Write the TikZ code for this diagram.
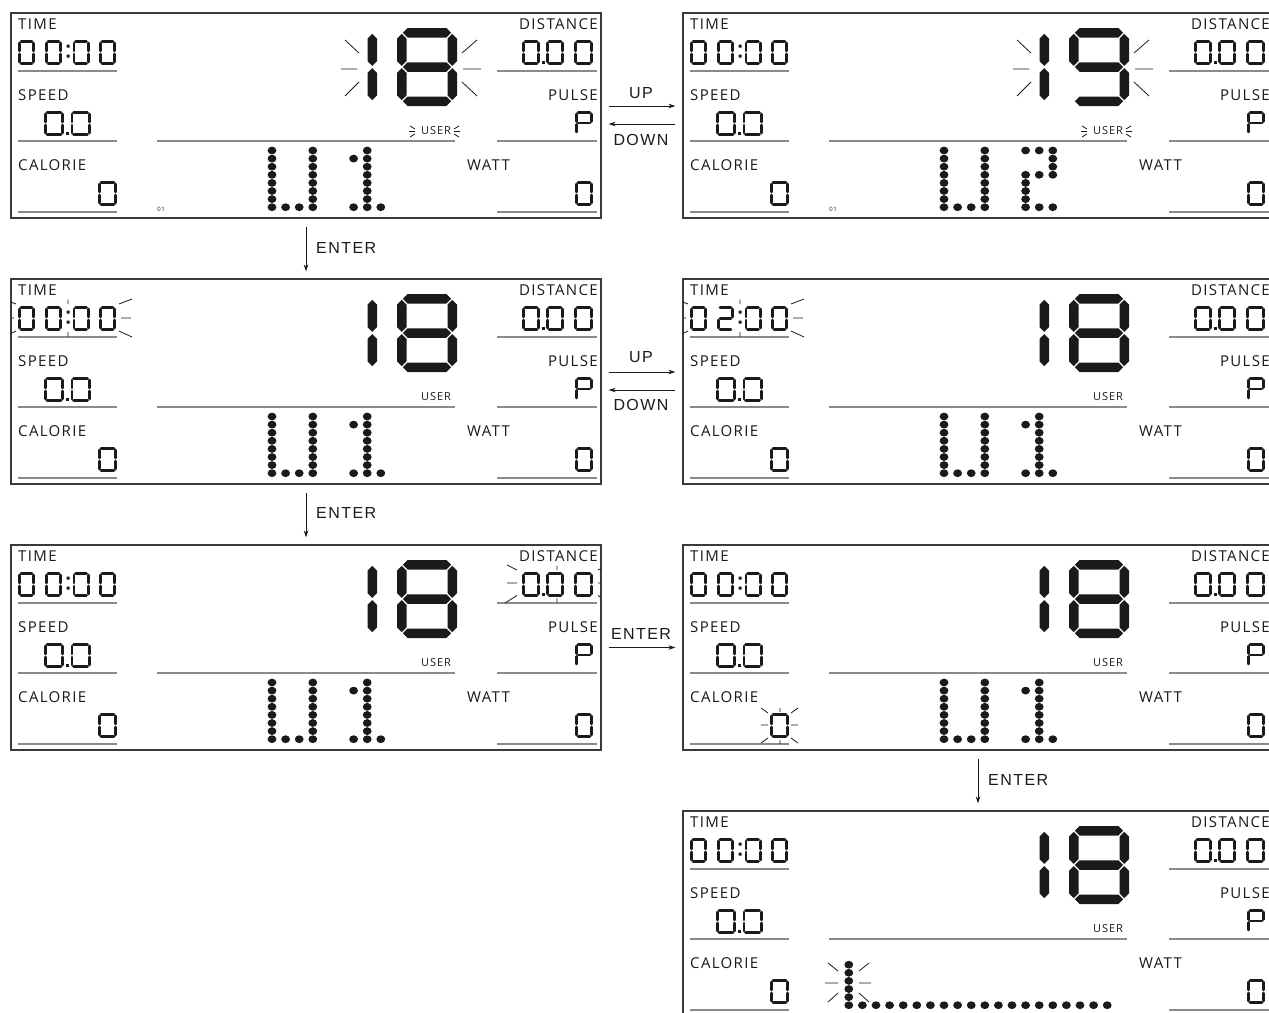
\documentclass[tikz,border=0pt]{standalone}
\usepackage{fontspec}
\setmainfont{Open Sans}
\newfontfamily\lcdf[LetterSpace=9]{Open Sans}
\newfontfamily\arrf[LetterSpace=9]{Liberation Sans}
\usetikzlibrary{arrows.meta}
\definecolor{ink}{HTML}{1A1A1A}
\definecolor{frame}{HTML}{3A3A3A}
\definecolor{rulec}{HTML}{8A8A8A}
\tikzset{
 panel/.style={draw=frame, line width=1.2, minimum width=590, minimum height=205, inner sep=0, fill=white},
 seg/.style={draw=ink, line width=2.8, line cap=round},
 flash/.style={draw=ink, line width=0.8},
 uline/.style={draw=rulec, line width=1.5},
 lbl/.style={font=\lcdf\fontsize{15}{15}\selectfont, inner sep=0, text=ink},
 usr/.style={font=\lcdf\fontsize{11}{11}\selectfont, inner sep=0, text=ink},
 tiny/.style={font=\lcdf\fontsize{6}{6}\selectfont, inner sep=0, text=ink},
 arrlbl/.style={font=\arrf\fontsize{16}{16}\selectfont, inner sep=0, text=ink},
 arr/.style={draw=ink, line width=0.9, -{Stealth[length=7, width=4.5]}},
}
\makeatletter
% small seven-segment digit
\def\si{1.4}\def\sgp{1.6}
\newcommand\sdig[5]{\begin{scope}[shift={(#1,#2)}]\def\dW{#3}\def\dH{#4}\edef\sglist{#5}%
 \foreach \s in \sglist {\csname sd@\s\endcsname}\end{scope}}
\def\sd@a{\draw[seg] (\si+\sgp,\si) -- (\dW-\si-\sgp,\si);}
\def\sd@b{\draw[seg] (\dW-\si,\si+\sgp) -- (\dW-\si,\dH/2-\sgp);}
\def\sd@c{\draw[seg] (\dW-\si,\dH/2+\sgp) -- (\dW-\si,\dH-\si-\sgp);}
\def\sd@d{\draw[seg] (\si+\sgp,\dH-\si) -- (\dW-\si-\sgp,\dH-\si);}
\def\sd@e{\draw[seg] (\si,\dH/2+\sgp) -- (\si,\dH-\si-\sgp);}
\def\sd@f{\draw[seg] (\si,\si+\sgp) -- (\si,\dH/2-\sgp);}
\def\sd@g{\draw[seg] (\si+\sgp,\dH/2) -- (\dW-\si-\sgp,\dH/2);}
\def\zero{a,b,c,d,e,f}
% big seven-segment digit
\def\bt{9.5}\def\bg{1.2}
\newcommand\bdig[5]{\begin{scope}[shift={(#1,#2)}]\def\dW{#3}\def\dH{#4}\edef\bglist{#5}%
 \foreach \s in \bglist {\csname bd@\s\endcsname}\end{scope}}
\def\bh#1{\fill[ink] (\bt/2+\bg,#1) -- (\bt+\bg,#1-\bt/2) -- (\dW-\bt-\bg,#1-\bt/2) -- (\dW-\bt/2-\bg,#1) -- (\dW-\bt-\bg,#1+\bt/2) -- (\bt+\bg,#1+\bt/2) -- cycle;}
\def\bv#1#2#3{\fill[ink] (#1,#2+\bg) -- (#1+\bt/2,#2+\bt/2+\bg) -- (#1+\bt/2,#3-\bt/2-\bg) -- (#1,#3-\bg) -- (#1-\bt/2,#3-\bt/2-\bg) -- (#1-\bt/2,#2+\bt/2+\bg) -- cycle;}
\def\bd@a{\bh{\bt/2}}
\def\bd@g{\bh{\dH/2}}
\def\bd@d{\bh{\dH-\bt/2}}
\def\bd@f{\bv{\bt/2}{\bt/2}{\dH/2}}
\def\bd@b{\bv{\dW-\bt/2}{\bt/2}{\dH/2}}
\def\bd@e{\bv{\bt/2}{\dH/2}{\dH-\bt/2}}
\def\bd@c{\bv{\dW-\bt/2}{\dH/2}{\dH-\bt/2}}
\makeatother
% dot of the matrix
\newcommand\mdot[2]{\fill[ink] ({272+13.6*(#1)},{150.5+8.1*(#2)}) ellipse [x radius=4.4, y radius=3.9];}
\newcommand\matU{\foreach \r in {0,...,7}{\mdot{0}{\r}\mdot{3}{\r}}\mdot{1}{7}\mdot{2}{7}}
\newcommand\matOne{\foreach \r in {0,...,7}{\mdot{7}{\r}}\mdot{6}{1}\mdot{6}{7}\mdot{8}{7}}
\newcommand\matTwo{\mdot{6}{0}\mdot{7}{0}\mdot{8}{0}\mdot{8}{1}\mdot{8}{2}\mdot{6}{3}\mdot{7}{3}\mdot{8}{3}\mdot{6}{4}\mdot{6}{5}\mdot{6}{6}\mdot{6}{7}\mdot{7}{7}\mdot{8}{7}}
% one display panel
\newcommand\lcdpanel[5]{%
 \node[panel] (#3) at (#1+306,#2+115.5) {};
 \begin{scope}[shift={(#1,#2)}]
  \node[lbl,anchor=base west] (#3-t) at (18,29) {TIME};
  \node[lbl,anchor=base west] (#3-s) at (18,100) {SPEED};
  \node[lbl,anchor=base west] (#3-c) at (18,170) {CALORIE};
  \node[lbl,anchor=base east] (#3-d) at (598,29) {DISTANCE};
  \node[lbl,anchor=base east] (#3-p) at (598,100) {PULSE};
  \node[lbl,anchor=base west] (#3-w) at (467,170) {WATT};
  \node[usr] (#3-u) at (436,131) {USER};
  \draw[uline] (18,71) -- (117,71) (18,141) -- (117,141) (18,212) -- (117,212)
   (497,71) -- (597,71) (497,141) -- (597,141) (497,212) -- (597,212) (157,141) -- (455,141);
  \sdig{18}{40}{17}{25}{\zero}\sdig{45}{40}{17}{25}{#4}\sdig{72.5}{40}{17}{25}{\zero}\sdig{99}{40}{17}{25}{\zero}
  \fill[ink] (66.5,44.5) rectangle +(3,3) (66.5,54.5) rectangle +(3,3);
  \sdig{44}{111}{20}{25}{\zero}\fill[ink] (66,132) rectangle +(3,3);\sdig{70.5}{111}{20}{25}{\zero}
  \sdig{98}{181}{19}{25}{\zero}
  \sdig{522}{40}{18}{25}{\zero}\fill[ink] (541.5,61) rectangle +(3,3);\sdig{546}{40}{18}{25}{\zero}\sdig{574}{40}{19}{25}{\zero}
  \sdig{575}{111}{18}{24}{a,b,e,f,g}
  \sdig{575}{181}{18}{25}{\zero}
  \bdig{317}{28}{60}{78}{b,c}\bdig{397}{28}{60}{78}{#5}
 \end{scope}}
\newcommand\clippanel{\clip (11,13) rectangle (601,218);}
\begin{document}
\begin{tikzpicture}[x=1pt,y=-1pt]
\useasboundingbox (0,0) rectangle (1269,1012);
\clip (0,0) rectangle (1269,1012);
% ---- panel A
\lcdpanel{0}{0}{pA}{a,b,c,d,e,f}{a,b,c,d,e,f,g}
\begin{scope}
 \matU\matOne
 \node[tiny] (pA-n) at (161,209) {01};
 \draw[flash] (345,40) -- (359,53) (341,69) -- (357,69) (345,96) -- (359,82)
  (462,53) -- (477,40) (463,69) -- (481,69) (462,82) -- (477,96);
 \draw[flash] (410,126) -- (415,129) (409,131.5) -- (415,131.5) (410,137) -- (415,134)
  (454,129) -- (459,126) (454,131.5) -- (460,131.5) (454,134) -- (459,137);
\end{scope}
% ---- panel B
\lcdpanel{672}{0}{pB}{a,b,c,d,e,f}{a,b,c,d,f,g}
\begin{scope}[shift={(672,0)}]
 \matU\matTwo
 \node[tiny] (pB-n) at (161,209) {01};
 \draw[flash] (345,40) -- (359,53) (341,69) -- (357,69) (345,96) -- (359,82)
  (462,53) -- (477,40) (463,69) -- (481,69) (462,82) -- (477,96);
 \draw[flash] (410,126) -- (415,129) (409,131.5) -- (415,131.5) (410,137) -- (415,134)
  (454,129) -- (459,126) (454,131.5) -- (460,131.5) (454,134) -- (459,137);
\end{scope}
% ---- panel C
\lcdpanel{0}{266}{pC}{a,b,c,d,e,f}{a,b,c,d,e,f,g}
\begin{scope}[shift={(0,266)}]
 \matU\matOne
 \begin{scope}\clippanel
 \draw[flash] (119,38) -- (132,33) (121,52) -- (131,52) (119,65) -- (132,71)
  (16,38) -- (3,33) (14,52) -- (4,52) (16,65) -- (3,71)
  (68,33.5) -- (68,38) (68,66) -- (68,70.5);
 \end{scope}
\end{scope}
% ---- panel D
\lcdpanel{672}{266}{pD}{a,b,g,e,d}{a,b,c,d,e,f,g}
\begin{scope}[shift={(672,266)}]
 \matU\matOne
 \begin{scope}\clippanel
 \draw[flash] (119,38) -- (132,33) (121,52) -- (131,52) (119,65) -- (132,71)
  (16,38) -- (3,33) (14,52) -- (4,52) (16,65) -- (3,71)
  (68,33.5) -- (68,38) (68,66) -- (68,70.5);
 \end{scope}
\end{scope}
% ---- panel E
\lcdpanel{0}{532}{pE}{a,b,c,d,e,f}{a,b,c,d,e,f,g}
\begin{scope}[shift={(0,532)}]
 \matU\matOne
 \begin{scope}\clippanel
 \draw[flash] (507,33) -- (517,38) (507,51) -- (517,51) (505,71) -- (517,63.5)
  (608,33) -- (598,38) (608,51) -- (598,51) (610,71) -- (598,63.5)
  (557,33.5) -- (557,38) (557,66) -- (557,70.5);
 \end{scope}
\end{scope}
% ---- panel F
\lcdpanel{672}{532}{pF}{a,b,c,d,e,f}{a,b,c,d,e,f,g}
\begin{scope}[shift={(672,532)}]
 \matU\matOne
 \draw[flash] (89,176) -- (96,181) (89,193) -- (96,193) (89,211) -- (96,206)
  (119,181) -- (126,176) (119,193) -- (126,193) (119,206) -- (126,211)
  (108,176) -- (108,180) (108,208) -- (108,212);
\end{scope}
% ---- panel G
\lcdpanel{672}{798}{pG}{a,b,c,d,e,f}{a,b,c,d,e,f,g}
\begin{scope}[shift={(672,798)}]
 \foreach \r in {2,...,6}{\mdot{-7}{\r}}
 \foreach \c in {-7,...,12}{\mdot{\c}{7}}
 \draw[flash] (156,165) -- (166,173) (153,185) -- (166,185) (156,204) -- (166,195)
  (187,173) -- (197,165) (187,185) -- (199,185) (187,195) -- (197,204);
\end{scope}
% ---- connectors
\draw[arr] ([shift={(7pt,9.5pt)}]pA.east) -- ([shift={(-7pt,9.5pt)}]pB.west);
\draw[arr] ([shift={(-7pt,-8.5pt)}]pB.west) -- ([shift={(7pt,-8.5pt)}]pA.east);
\node[arrlbl] (up1) at (641,93) {UP};
\node[arrlbl] (dn1) at (641,140) {DOWN};
\draw[arr] ([shift={(7pt,9.5pt)}]pC.east) -- ([shift={(-7pt,9.5pt)}]pD.west);
\draw[arr] ([shift={(-7pt,-8.5pt)}]pD.west) -- ([shift={(7pt,-8.5pt)}]pC.east);
\node[arrlbl] (up2) at (641,357) {UP};
\node[arrlbl] (dn2) at (641,405) {DOWN};
\draw[arr] ([yshift=-8pt]pA.south) -- ([yshift=7pt]pC.north);
\node[arrlbl,anchor=west] (en1) at (316,248) {ENTER};
\draw[arr] ([yshift=-8pt]pC.south) -- ([yshift=7pt]pE.north);
\node[arrlbl,anchor=west] (en2) at (316,513) {ENTER};
\draw[arr] ([shift={(7pt,0pt)}]pE.east) -- ([shift={(-7pt,0pt)}]pF.west);
\node[arrlbl] (en3) at (641,634) {ENTER};
\draw[arr] ([yshift=-8pt]pF.south) -- ([yshift=7pt]pG.north);
\node[arrlbl,anchor=west] (en4) at (988,780) {ENTER};
\end{tikzpicture}
\end{document}
